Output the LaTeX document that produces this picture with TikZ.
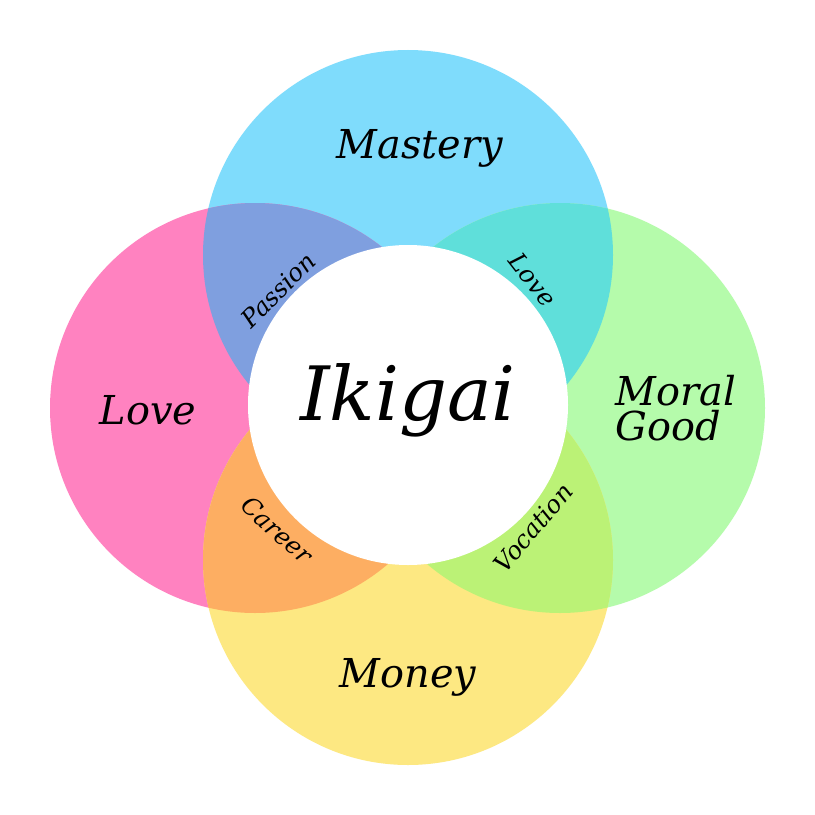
\documentclass[tikz,border=0pt]{standalone}
\usepackage{fontspec}
\setmainfont{DejaVu Serif}
\definecolor{cT}{HTML}{7FDCFC}
\definecolor{cL}{HTML}{FF82C0}
\definecolor{cR}{HTML}{B5FBAB}
\definecolor{cB}{HTML}{FDE882}
\definecolor{cTL}{HTML}{7F9FDF}
\definecolor{cTR}{HTML}{5FDFDA}
\definecolor{cBR}{HTML}{BBF276}
\definecolor{cBL}{HTML}{FDAE62}
\begin{document}
\begin{tikzpicture}[x=0.03cm,y=-0.03cm,
  big/.style={font=\itshape\fontsize{34}{36}\selectfont},
  small/.style={font=\itshape\fontsize{21}{22}\selectfont}]
\useasboundingbox (0,0) rectangle (815,815);
\fill[white] (0,0) rectangle (815,815);
\def\r{205}
\fill[cT] (408,255) circle (\r);
\fill[cL] (255,408) circle (\r);
\fill[cR] (560,408) circle (\r);
\fill[cB] (408,560) circle (\r);
\begin{scope}\clip (408,255) circle (\r); \fill[cTL] (255,408) circle (\r); \fill[cTR] (560,408) circle (\r);\end{scope}
\begin{scope}\clip (408,560) circle (\r); \fill[cBL] (255,408) circle (\r); \fill[cBR] (560,408) circle (\r);\end{scope}
\node[circle,fill=white,minimum size=320*0.03cm,inner sep=0] (c) at (408,405) {};
\node[font=\itshape\fontsize{64}{66}\selectfont] (ik) at (408,400) {Ikigai};
\node[big] (m) at (420,148) {Mastery};
\node[big] (lv) at (148,410) {Love};
\node[big,align=left] (mg) at (676,408) {Moral\\[-6pt]Good};
\node[big] (mo) at (408,677) {Money};
\node[small,rotate=45] (pa) at (278,290) {Passion};
\node[small,rotate=-52] (lo) at (533,280) {Love};
\node[small,rotate=-42] (ca) at (277,530) {Career};
\node[small,rotate=50] (vo) at (533,528) {Vocation};
\end{tikzpicture}
\end{document}
